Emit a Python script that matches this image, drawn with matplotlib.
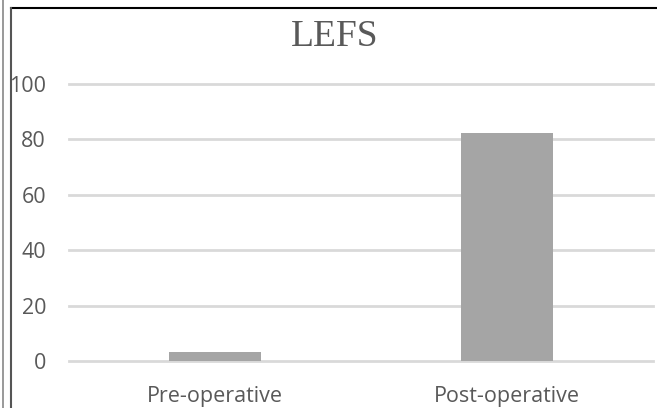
import matplotlib
matplotlib.use("Agg")
import matplotlib.pyplot as plt
from matplotlib.lines import Line2D

categories = ["Pre-operative", "Post-operative"]
values = [3.3, 82.2]
yticks = [0, 20, 40, 60, 80, 100]
title = "LEFS"

W, H = 657, 408
fig = plt.figure(figsize=(W / 100, H / 100), dpi=100)
fig.patch.set_facecolor("white")

ax = fig.add_axes([69 / W, (H - 361) / H, (653 - 69) / W, (361 - 84) / H])
ax.bar(range(len(categories)), values, width=0.315, color="#a5a5a5", zorder=3)
ax.set_xlim(-0.5, len(categories) - 0.5)
ax.set_ylim(0, 100)
ax.set_yticks(yticks)
ax.set_xticks(range(len(categories)))
ax.set_xticklabels(categories)
for s in ax.spines.values():
    s.set_visible(False)
ax.tick_params(length=0)
ax.tick_params(axis="y", pad=16.5, labelsize=15.5, labelcolor="#595959")
ax.tick_params(axis="x", pad=18, labelsize=15.5, labelcolor="#595959")
for lab in ax.get_xticklabels() + ax.get_yticklabels():
    lab.set_fontfamily("Open Sans")
for t in yticks:
    ax.axhline(t, color="#d9d9d9", lw=2, zorder=1, clip_on=False)

fig.text(335 / W, 1 - 46.5 / H, title, ha="center", va="baseline",
         fontsize=27, color="#595959", family="Liberation Serif")

# frame lines
fig.add_artist(Line2D([11 / W, 1], [1 - 8 / H, 1 - 8 / H], color="black", lw=1.5))
fig.add_artist(Line2D([10.5 / W, 10.5 / W], [0, 1 - 8 / H], color="#555555", lw=1.5))
fig.add_artist(Line2D([2.5 / W, 2.5 / W], [0, 1], color="#888888", lw=1.2))

fig.savefig("out.png", dpi=100)
